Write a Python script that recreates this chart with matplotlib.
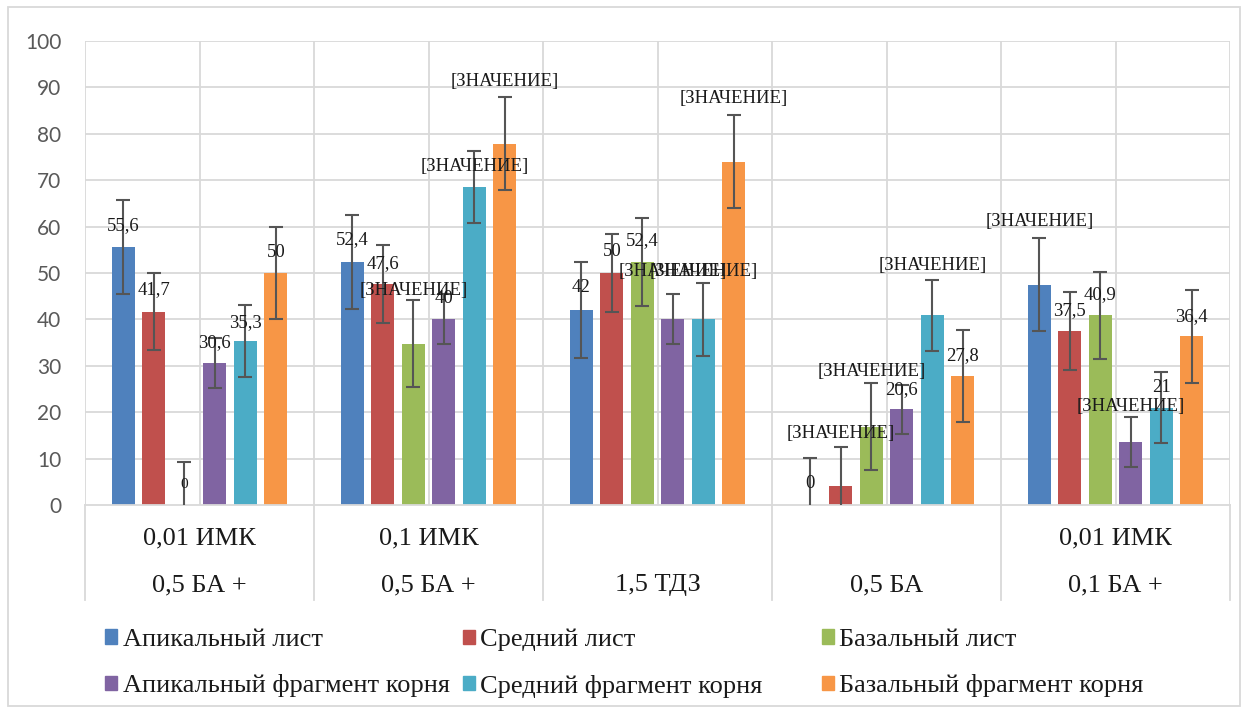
import matplotlib.pyplot as plt
import matplotlib.patches as mpatches
import numpy as np

# Treatments: two-row category labels (top row, bottom row)
top_row = ["0,01 ИМК", "0,1 ИМК", "", "", "0,01 ИМК"]
bottom_row = ["0,5 БА +", "0,5 БА +", "1,5 ТДЗ", "0,5 БА", "0,1 БА +"]

series_names = ["Апикальный лист", "Средний лист", "Базальный лист",
                "Апикальный фрагмент корня", "Средний фрагмент корня",
                "Базальный фрагмент корня"]

apical_leaf = [55.6, 52.4, 42, 0, 47.5]
mid_leaf = [41.7, 47.6, 50, 4.2, 37.5]
basal_leaf = [0, 34.8, 52.4, 16.9, 40.9]
apical_root = [30.6, 40, 40, 20.6, 13.6]
mid_root = [35.3, 68.5, 40, 40.9, 21]
basal_root = [50, 77.9, 74.0, 27.8, 36.4]

apical_leaf_err = [10.2, 10.2, 10.3, 10.2, 10.1]
mid_leaf_err = [8.4, 8.4, 8.4, 8.4, 8.4]
basal_leaf_err = [9.3, 9.4, 9.5, 9.3, 9.4]
apical_root_err = [5.3, 5.4, 5.4, 5.2, 5.3]
mid_root_err = [7.8, 7.8, 7.8, 7.7, 7.7]
basal_root_err = [10, 10, 10, 10, 10]

Z = "[ЗНАЧЕНИЕ]"
apical_leaf_lbl = ["55,6", "52,4", "42", "0", Z]
mid_leaf_lbl = ["41,7", "47,6", "50", Z, "37,5"]
basal_leaf_lbl = ["0", Z, "52,4", Z, "40,9"]
apical_root_lbl = ["30,6", "40", Z, "20,6", Z]
mid_root_lbl = ["35,3", Z, Z, Z, "21"]
basal_root_lbl = ["50", Z, Z, "27,8", "36,4"]

values = [apical_leaf, mid_leaf, basal_leaf, apical_root, mid_root, basal_root]
errors = [apical_leaf_err, mid_leaf_err, basal_leaf_err,
          apical_root_err, mid_root_err, basal_root_err]
labels = [apical_leaf_lbl, mid_leaf_lbl, basal_leaf_lbl,
          apical_root_lbl, mid_root_lbl, basal_root_lbl]

# how far above the bar each data label sits (labels were dragged around in the original)
label_shift = [[4.7, 4.7, 4.8, 4.7, 13.7],
               [4.8, 4.5, 4.6, 11.3, 4.5],
               [4.5, 11.4, 4.5, 11.8, 4.4],
               [4.3, 4.4, 10.3, 4.2, 7.7],
               [4.1, 4.4, 10.3, 10.8, 4.4],
               [4.5, 13.3, 13.7, 4.5, 4.3]]

colors = ["#4F81BD", "#C0504D", "#9BBB59", "#8064A2", "#4BACC6", "#F79646"]

serif = "Liberation Serif"
grid_c = "#D9D9D9"

fig = plt.figure(figsize=(12.47, 7.13), dpi=100)
ax = fig.add_axes([0.0682, 0.2917, 0.9182, 0.6508])

x = np.arange(len(bottom_row))
step = 0.1332
width = 0.1
for i, (vals, errs, lbls) in enumerate(zip(values, errors, labels)):
    pos = x + (i - 2.5) * step
    ax.bar(pos, vals, width, color=colors[i], label=series_names[i], zorder=2)
    ax.errorbar(pos, vals, yerr=errs, fmt="none", ecolor="#555555",
                elinewidth=1.5, capsize=5, capthick=1.5, zorder=3)
    for j in range(len(vals)):
        small = lbls[j] == "0" and i == 2
        ax.text(pos[j], vals[j] + label_shift[i][j], lbls[j], ha="center",
                va="center", fontsize=11 if small else 13.5, family=serif,
                color="#1a1a1a", zorder=4)

ax.set_xlim(-0.5, 4.5)
ax.set_ylim(0, 100)
ax.set_yticks(np.arange(0, 101, 10))
ax.tick_params(axis="y", length=0, labelsize=15, labelcolor="#595959", pad=17)
for t in ax.get_yticklabels():
    t.set_family("Lato")
ax.set_xticks([])
for s in ax.spines.values():
    s.set_visible(False)
ax.spines["bottom"].set_visible(True)
ax.spines["bottom"].set_color(grid_c)
ax.spines["bottom"].set_linewidth(1.3)

for yv in np.arange(10, 101, 10):
    ax.axhline(yv, color=grid_c, lw=1.3, zorder=0)
for xv in np.arange(-0.5, 4.51, 0.5):
    ax.axvline(xv, color=grid_c, lw=1.3, zorder=0)

# two-level category axis
for xv in np.arange(-0.5, 4.51, 1.0):
    ax.plot([xv, xv], [0, -0.205], transform=ax.get_xaxis_transform(),
            color=grid_c, lw=1.3, clip_on=False)
for j in range(len(bottom_row)):
    ax.text(x[j], -0.072, top_row[j], transform=ax.get_xaxis_transform(),
            ha="center", va="center", fontsize=19, family=serif, color="#1a1a1a")
    ax.text(x[j], -0.173, bottom_row[j], transform=ax.get_xaxis_transform(),
            ha="center", va="center", fontsize=19, family=serif, color="#1a1a1a")

# legend: three columns of two entries, laid out like the original
handles = [mpatches.Patch(color=c) for c in colors]
col_x = [0.0845, 0.3713, 0.6592]
for k in range(3):
    leg = fig.legend([handles[k], handles[k + 3]],
                     [series_names[k], series_names[k + 3]],
                     loc="upper left", bbox_to_anchor=(col_x[k], 0.118),
                     frameon=False, prop={"family": serif, "size": 19},
                     handlelength=0.45, handleheight=0.45, handletextpad=0.2,
                     labelspacing=0.88, borderaxespad=0, borderpad=0)
    for t in leg.get_texts():
        t.set_color("#1a1a1a")

fig.patches.append(mpatches.Rectangle((0.0064, 0.0098), 0.988, 0.98,
                                      transform=fig.transFigure, fill=False,
                                      edgecolor=grid_c, lw=1.3))

fig.savefig("out.png", dpi=100)
